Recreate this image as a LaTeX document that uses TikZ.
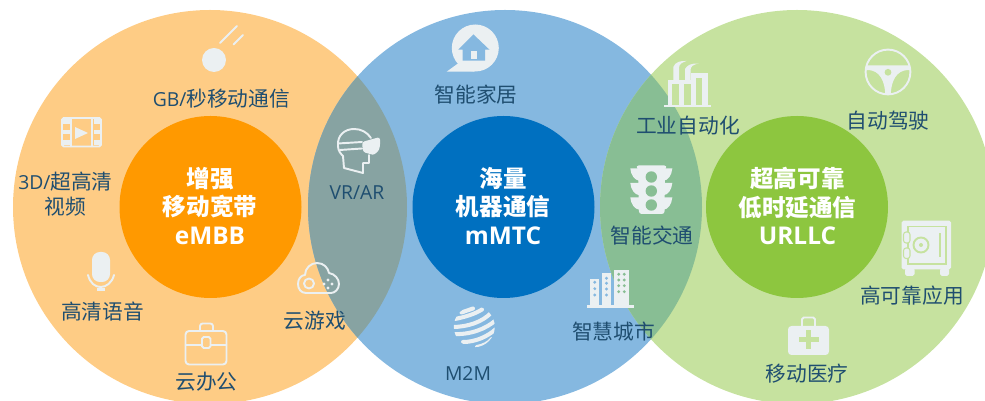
\documentclass[tikz,border=0pt]{standalone}
\usepackage{fontspec}
\setmainfont{Noto Sans CJK SC}
\newfontfamily\latinfont{Open Sans}
\newcommand\latlbl[1]{{\latinfont\fontsize{11}{14}\selectfont #1}}
\newcommand\latcore[1]{{\latinfont\fontsize{13.9}{16}\selectfont #1}}
\definecolor{bigorange}{HTML}{FECC85}
\definecolor{bigblue}{HTML}{85B8E0}
\definecolor{biggreen}{HTML}{C6E29F}
\definecolor{mixorange}{HTML}{87A3A2}
\definecolor{mixgreen}{HTML}{88BE94}
\definecolor{coreorange}{HTML}{FF9900}
\definecolor{coreblue}{HTML}{0070C0}
\definecolor{coregreen}{HTML}{8DC63F}
\definecolor{labelink}{HTML}{1F4E70}
\definecolor{iconlight}{HTML}{EBF0F2}
\tikzset{
  lbl/.style={text=labelink,font=\fontsize{11.8}{14}\selectfont,align=center,inner sep=0pt},
  corelbl/.style={text=white,font=\fontsize{13.4}{16}\selectfont\bfseries,align=center,inner sep=0pt},
  iconfill/.style={fill=iconlight},
  iconline/.style={draw=iconlight,line width=1.1pt,line join=round,line cap=round}
}
\begin{document}
\begin{tikzpicture}[x=0.02cm,y=-0.02cm]
\useasboundingbox (0,0) rectangle (985,401);

\fill[bigorange] (210,207) circle (197);
\fill[bigblue] (505,207) circle (197);
\fill[biggreen] (797,207) circle (197);
\begin{scope}
\clip (505,207) circle (197);
\fill[mixorange] (210,207) circle (197);
\fill[mixgreen] (797,207) circle (197);
\end{scope}
\fill[coreorange] (210.5,207) circle (91);
\fill[coreblue] (503.5,207) circle (91);
\fill[coregreen] (797,207) circle (91);

\node[corelbl] (embb) at (210,206) {增强\\移动宽带\\\latcore{eMBB}};
\node[corelbl] (mmtc) at (503,206) {海量\\机器通信\\\latcore{mMTC}};
\node[corelbl] (urllc) at (797.5,206) {超高可靠\\低时延通信\\\latcore{URLLC}};

\node[lbl] (gb) at (221.5,99) {\latlbl{GB/}秒移动通信};
\node[lbl] (video) at (65.5,194) {\latlbl{3D/}超高清\\视频};
\node[lbl] (voice) at (102.5,312) {高清语音};
\node[lbl] (office) at (206.5,382) {云办公};
\node[lbl] (game) at (315,321) {云游戏};
\node[lbl] (vrar) at (357,193) {\latlbl{VR/AR}};
\node[lbl] (home) at (476,95) {智能家居};
\node[lbl] (mtm) at (468,374) {\latlbl{M2M}};
\node[lbl] (city) at (613.5,332) {智慧城市};
\node[lbl] (traffic) at (652,236) {智能交通};
\node[lbl] (factory) at (688,126) {工业自动化};
\node[lbl] (drive) at (888,121) {自动驾驶};
\node[lbl] (safe) at (912,296) {高可靠应用};
\node[lbl] (medic) at (807,374) {移动医疗};

% meteor
\fill[iconfill] (214,60) circle (12);
\draw[iconline] (220,43) -- (237,26);
\draw[iconline] (233.5,44.5) -- (243,35);

% film
\draw[iconline,rounded corners=1pt] (62,118) rectangle (101,146.5);
\draw[iconline] (71,118) -- (71,146.5);
\draw[iconline] (92,118) -- (92,146.5);
\foreach \yy in {122,132.5,143} {
  \fill[iconfill] (63,\yy-2.5) rectangle (69.5,\yy+2);
  \fill[iconfill] (93.5,\yy-2.5) rectangle (100,\yy+2);
}
\fill[iconfill] (75,127) -- (88,133) -- (75,139) -- cycle;

% microphone
\fill[iconfill,rounded corners=4.5pt] (92,252) rectangle (110,282);
\draw[iconline] (88,275) .. controls (90,283) and (95,287) .. (100.7,287)
  .. controls (106,287) and (112,283) .. (114,275);
\draw[iconline] (100.7,287) -- (100.7,290);
\fill[iconfill] (97,288.5) rectangle (104.5,291);

% briefcase
\draw[iconline,rounded corners=2pt] (185.5,331) rectangle (226.5,364.5);
\draw[iconline,rounded corners=1.5pt] (200,331) -- (200,323.5) -- (213,323.5) -- (213,331);
\draw[iconline] (185.5,345) -- (202,345);
\draw[iconline] (211,345) -- (226.5,345);
\draw[iconline,rounded corners=1pt] (202,337) rectangle (210.5,348);

% cloud gamepad
\draw[iconline] (306,293) .. controls (301,293) and (298,289) .. (298,284)
  .. controls (298,279) and (301,275) .. (305,275)
  .. controls (305,268) and (311,263) .. (317,263)
  .. controls (324,263) and (328,268) .. (329,273)
  .. controls (335,274) and (339,279) .. (339,284)
  .. controls (339,289) and (335,293) .. (331,293) -- cycle;
\draw[iconline] (309,283.5) circle (5);
\foreach \dx/\dy in {-4/0,0/-4,4/0,0/4} {
  \fill[iconfill] (328+\dx,284+\dy) circle (1.7);
}

% vr headset
\draw[iconline] (338,146) .. controls (337,135) and (345,129) .. (354,129)
  .. controls (361,129) and (367,132) .. (371,138);
\draw[iconline] (338,143.5) -- (362,142);
\draw[iconline] (340,150) -- (362,148.5);
\draw[iconline] (338,146) .. controls (338,151) and (341,154) .. (343,156)
  -- (344,168) -- (363,173) -- (363,163) -- (369,163) -- (369,155);
\fill[iconfill,rounded corners=1.5pt] (362,142) -- (380,137) -- (380,147)
  .. controls (378,152) and (374,155) .. (370,154) -- (363,152) -- cycle;

% house bubble
\fill[iconfill] (475.3,48) circle (23.5);
\fill[iconfill] (460,62) -- (446.7,71.7) -- (475,71.5) -- cycle;
\fill[bigblue,line join=round] (458.3,49.7) -- (473.5,34.5) -- (489.5,49.7) -- (485,49.7) -- (485,60.7) -- (462.7,60.7) -- (462.7,49.7) -- cycle;
\fill[iconfill] (471,50.7) rectangle (477.3,58.7);

% globe
\begin{scope}
\clip (474.3,326.7) circle (20.5);
\draw[iconline,line width=2.3pt] (461.5,312.5) -- (473,308.5);
\draw[iconline,line width=2.3pt] (455,319) .. controls (465,317) and (475,314) .. (482,309.5);
\draw[iconline,line width=2.3pt] (452,327) .. controls (468,327) and (482,322) .. (491,313);
\draw[iconline,line width=2.3pt] (453,334) .. controls (470,335) and (486,329) .. (496,320);
\draw[iconline,line width=2.3pt] (463,342) .. controls (475,342) and (487,337) .. (496,329);
\draw[iconline,line width=2.3pt] (477,347) .. controls (483,346) and (489,343) .. (492,339);
\end{scope}

% city
\fill[iconfill] (587,305.5) rectangle (634.3,308.5);
\fill[iconfill] (590.3,279) rectangle (599.3,305.5);
\fill[iconfill] (602,273.3) rectangle (611.3,305.5);
\fill[iconfill] (614.3,270) rectangle (629.3,305.5);
\foreach \yy in {282.3,288.7,295} {
  \fill[bigblue] (594.8,\yy) circle (1.6);
}
\foreach \yy in {278.3,283.3,289,295} {
  \fill[bigblue] (606.5,\yy) circle (1.6);
}
\foreach \yy in {274.3,280,285.7,291.7} {
  \fill[mixgreen] (618.7,\yy) circle (1.6);
  \fill[mixgreen] (624.3,\yy) circle (1.6);
}

% traffic light
\fill[iconfill,rounded corners=1.5pt] (636,165.5) -- (667,165.5) -- (665,169) -- (664.5,214) -- (639,214) -- (638,169) -- cycle;
\foreach \yy in {0,14.5,29} {
  \fill[iconfill] (630.3,168.5+\yy) -- (640,168.5+\yy) -- (640,181+\yy) .. controls (634,180+\yy) and (631,175+\yy) .. (630.3,168.5+\yy) -- cycle;
  \fill[iconfill] (672.3,168.5+\yy) -- (663,168.5+\yy) -- (663,181+\yy) .. controls (669,180+\yy) and (671.5,175+\yy) .. (672.3,168.5+\yy) -- cycle;
}
\fill[mixgreen] (651.3,177) circle (5.7);
\fill[mixgreen] (651.3,191) circle (5.7);
\fill[mixgreen] (651.3,205) circle (5.7);

% factory
\fill[iconfill] (664.3,105) rectangle (710.5,107.5);
\fill[iconfill] (667.7,80) rectangle (690.7,105);
\fill[iconfill] (690.7,73) rectangle (707.7,105);
\fill[biggreen] (672.3,84.5) rectangle (679,105);
\fill[biggreen] (684,84.5) rectangle (690.7,105);
\fill[biggreen] (695.7,78) rectangle (701.7,105);
\fill[iconfill] (673.3,80) -- (673.3,67) .. controls (675,62) and (681,60.5) .. (686.5,61)
  .. controls (682,62.5) and (679,64) .. (679,68) -- (679,80) -- cycle;
\fill[iconfill] (685,80) -- (685,69) .. controls (687,65) and (692,63) .. (698.5,63.5)
  .. controls (694,64.5) and (690.5,66) .. (690.5,70) -- (690.5,80) -- cycle;

% steering wheel
\draw[iconline] (888,72) circle (22.4);
\fill[iconfill] (866.5,65.5) -- (909.5,65.5) -- (910.5,70)
  .. controls (901,69.5) and (892,74) .. (890.7,94) -- (885.3,94)
  .. controls (884,74) and (875,69.5) .. (865.5,70) -- cycle;
\fill[biggreen] (888,72.3) circle (3.4);

% safe
\fill[iconfill,rounded corners=1pt] (901.7,220.7) rectangle (951,269.5);
\fill[iconfill,rounded corners=1pt] (905,268) rectangle (914.5,276);
\fill[iconfill,rounded corners=1pt] (940,268) rectangle (949,276);
\fill[biggreen] (906.7,225.7) rectangle (946.7,265);
\fill[iconfill] (908.5,227.5) rectangle (945,263.2);
\draw[biggreen,line width=0.6pt,rounded corners=1.5pt,fill=iconlight] (903.5,232) rectangle (910,243);
\draw[biggreen,line width=0.6pt,rounded corners=1.5pt,fill=iconlight] (903.5,248) rectangle (910,258.5);
\draw[biggreen,line width=1.1pt] (921,245) circle (7.5);
\fill[biggreen] (921,245) circle (2);
\fill[biggreen] (938.5,233) rectangle (940.7,257);

% first aid kit
\fill[iconfill,rounded corners=2pt] (788,326) rectangle (829,355);
\draw[iconline,rounded corners=1pt] (802,326) -- (802,317.5) -- (815,317.5) -- (815,326);
\fill[biggreen] (806,330.5) rectangle (811,349.5);
\fill[biggreen] (798.5,337.5) rectangle (818.5,342.5);
\end{tikzpicture}
\end{document}
